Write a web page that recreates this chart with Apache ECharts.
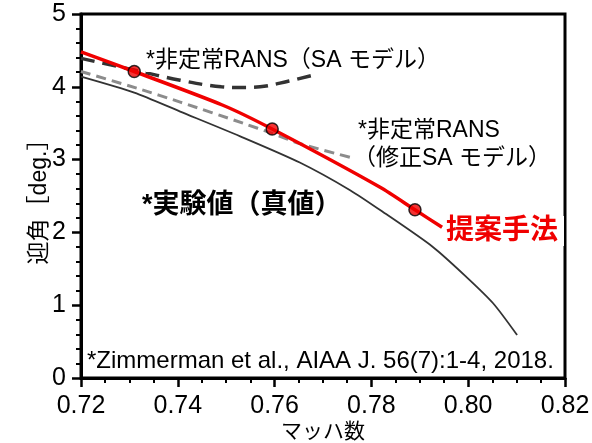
<!DOCTYPE html>
<html><head><meta charset="utf-8">
<script src="https://cdn.jsdelivr.net/npm/echarts@6/dist/echarts.min.js"></script>
<style>html,body{margin:0;padding:0;background:#fff}#c{width:592px;height:443px}</style>
</head><body><div id="c"></div>
<script>
// Data
const expMach = [0.720, 0.731, 0.7405, 0.7529, 0.7652, 0.7756, 0.7824, 0.7927, 0.7996, 0.8051, 0.8101];
const expAoA  = [4.14, 3.92, 3.66, 3.32, 2.96, 2.58, 2.28, 1.80, 1.39, 1.03, 0.59];
const saMach = [0.720, 0.731, 0.7405, 0.749, 0.753, 0.757, 0.763, 0.768];
const saAoA  = [4.39, 4.23, 4.09, 4.00, 3.99, 4.00, 4.08, 4.16];
const modMach = [0.720, 0.7316, 0.7405, 0.7535, 0.7595, 0.7652, 0.7762];
const modAoA  = [4.21, 3.98, 3.79, 3.50, 3.36, 3.22, 3.02];
const propMach = [0.720, 0.731, 0.7492, 0.7595, 0.7818, 0.789, 0.7946];
const propAoA  = [4.48, 4.21, 3.75, 3.42, 2.62, 2.31, 2.07];
const markMach = [0.731, 0.7595, 0.789];
const markAoA  = [4.21, 3.42, 2.31];
const xTicks = [0.72, 0.74, 0.76, 0.78, 0.80, 0.82];
const yTicks = [0, 1, 2, 3, 4, 5];

const zip = (a, b) => a.map((v, i) => [v, b[i]]);
const FONT = '"Liberation Sans", Arial, "Noto Sans CJK JP", sans-serif';
const RED = '#f00000';

const chart = echarts.init(document.getElementById('c'), null, {renderer: 'canvas'});
chart.setOption({
  animation: false,
  backgroundColor: '#fff',
  grid: {left: 81, right: 27, top: 14, bottom: 65, containLabel: false, outerBoundsMode: 'none',
         show: true, borderColor: '#000', borderWidth: 3, backgroundColor: 'transparent'},
  xAxis: {
    type: 'value', min: xTicks[0], max: xTicks[xTicks.length - 1], interval: 0.02,
    name: 'マッハ数', nameLocation: 'middle', nameGap: 44, nameMoveOverlap: false,
    nameTextStyle: {fontFamily: FONT, fontSize: 21, color: '#000'},
    axisLine: {show: true, lineStyle: {color: '#000', width: 3}},
    axisTick: {show: true, length: 9, lineStyle: {color: '#000', width: 2.5}},
    minorTick: {show: true, splitNumber: 4, length: 5, lineStyle: {color: '#000', width: 2}},
    splitLine: {show: false}, minorSplitLine: {show: false},
    axisLabel: {fontFamily: FONT, fontSize: 25, color: '#000', margin: 16,
                formatter: v => v.toFixed(2)}
  },
  yAxis: {
    type: 'value', min: yTicks[0], max: yTicks[yTicks.length - 1], interval: 1,
    name: '迎角［deg.］', nameLocation: 'middle', nameGap: 30, nameRotate: 90, nameMoveOverlap: false,
    nameTextStyle: {fontFamily: FONT, fontSize: 23, color: '#000'},
    axisLine: {show: true, lineStyle: {color: '#000', width: 3}},
    axisTick: {show: true, length: 9, lineStyle: {color: '#000', width: 2.5}},
    minorTick: {show: true, splitNumber: 5, length: 5, lineStyle: {color: '#000', width: 2}},
    splitLine: {show: false}, minorSplitLine: {show: false},
    axisLabel: {fontFamily: FONT, fontSize: 25, color: '#000', margin: 15}
  },
  series: [
    {type: 'line', data: zip(expMach, expAoA), smooth: 0.25, symbol: 'none',
     lineStyle: {color: '#333', width: 1.8}, z: 2},
    {type: 'line', data: zip(modMach, modAoA), smooth: 0.25, symbol: 'none',
     lineStyle: {color: '#8c8c8c', width: 3, type: [10, 6]}, z: 3},
    {type: 'line', data: zip(saMach, saAoA), smooth: 0.4, symbol: 'none',
     lineStyle: {color: '#333', width: 3.5, type: [14, 8]}, z: 3},
    {type: 'line', data: zip(propMach, propAoA), smooth: 0.25, symbol: 'none',
     lineStyle: {color: RED, width: 3.5}, z: 4},
    {type: 'scatter', data: zip(markMach, markAoA), symbol: 'circle', symbolSize: 12,
     itemStyle: {color: RED, borderColor: '#000', borderWidth: 1.5}, z: 5}
  ],
  graphic: [
    {type: 'text', left: 146, top: 49, z: 100, style: {text: '*非定常RANS（SA モデル）',
      font: '23px ' + FONT, fill: '#000', backgroundColor: '#fff'}},
    {type: 'text', left: 358, top: 119, z: 100, style: {text: '*非定常RANS',
      font: '23px ' + FONT, fill: '#000'}},
    {type: 'text', left: 353, top: 147, z: 100, style: {text: '（修正SA モデル）',
      font: '23px ' + FONT, fill: '#000', backgroundColor: '#fff'}},
    {type: 'text', left: 142, top: 192, z: 100, style: {text: '*実験値（真値）',
      font: 'bold 27px ' + FONT, fill: '#000'}},
    {type: 'text', left: 443, top: 216, z: 100, style: {text: '提案手法',
      font: 'bold 28px ' + FONT, fill: RED, backgroundColor: '#fff', padding: [1, 6, 1, 3]}},
    {type: 'text', left: 87, top: 349, z: 100, style: {text: '*Zimmerman et al., AIAA J. 56(7):1-4, 2018.',
      font: '24px ' + FONT, fill: '#000'}}
  ]
});
</script></body></html>
